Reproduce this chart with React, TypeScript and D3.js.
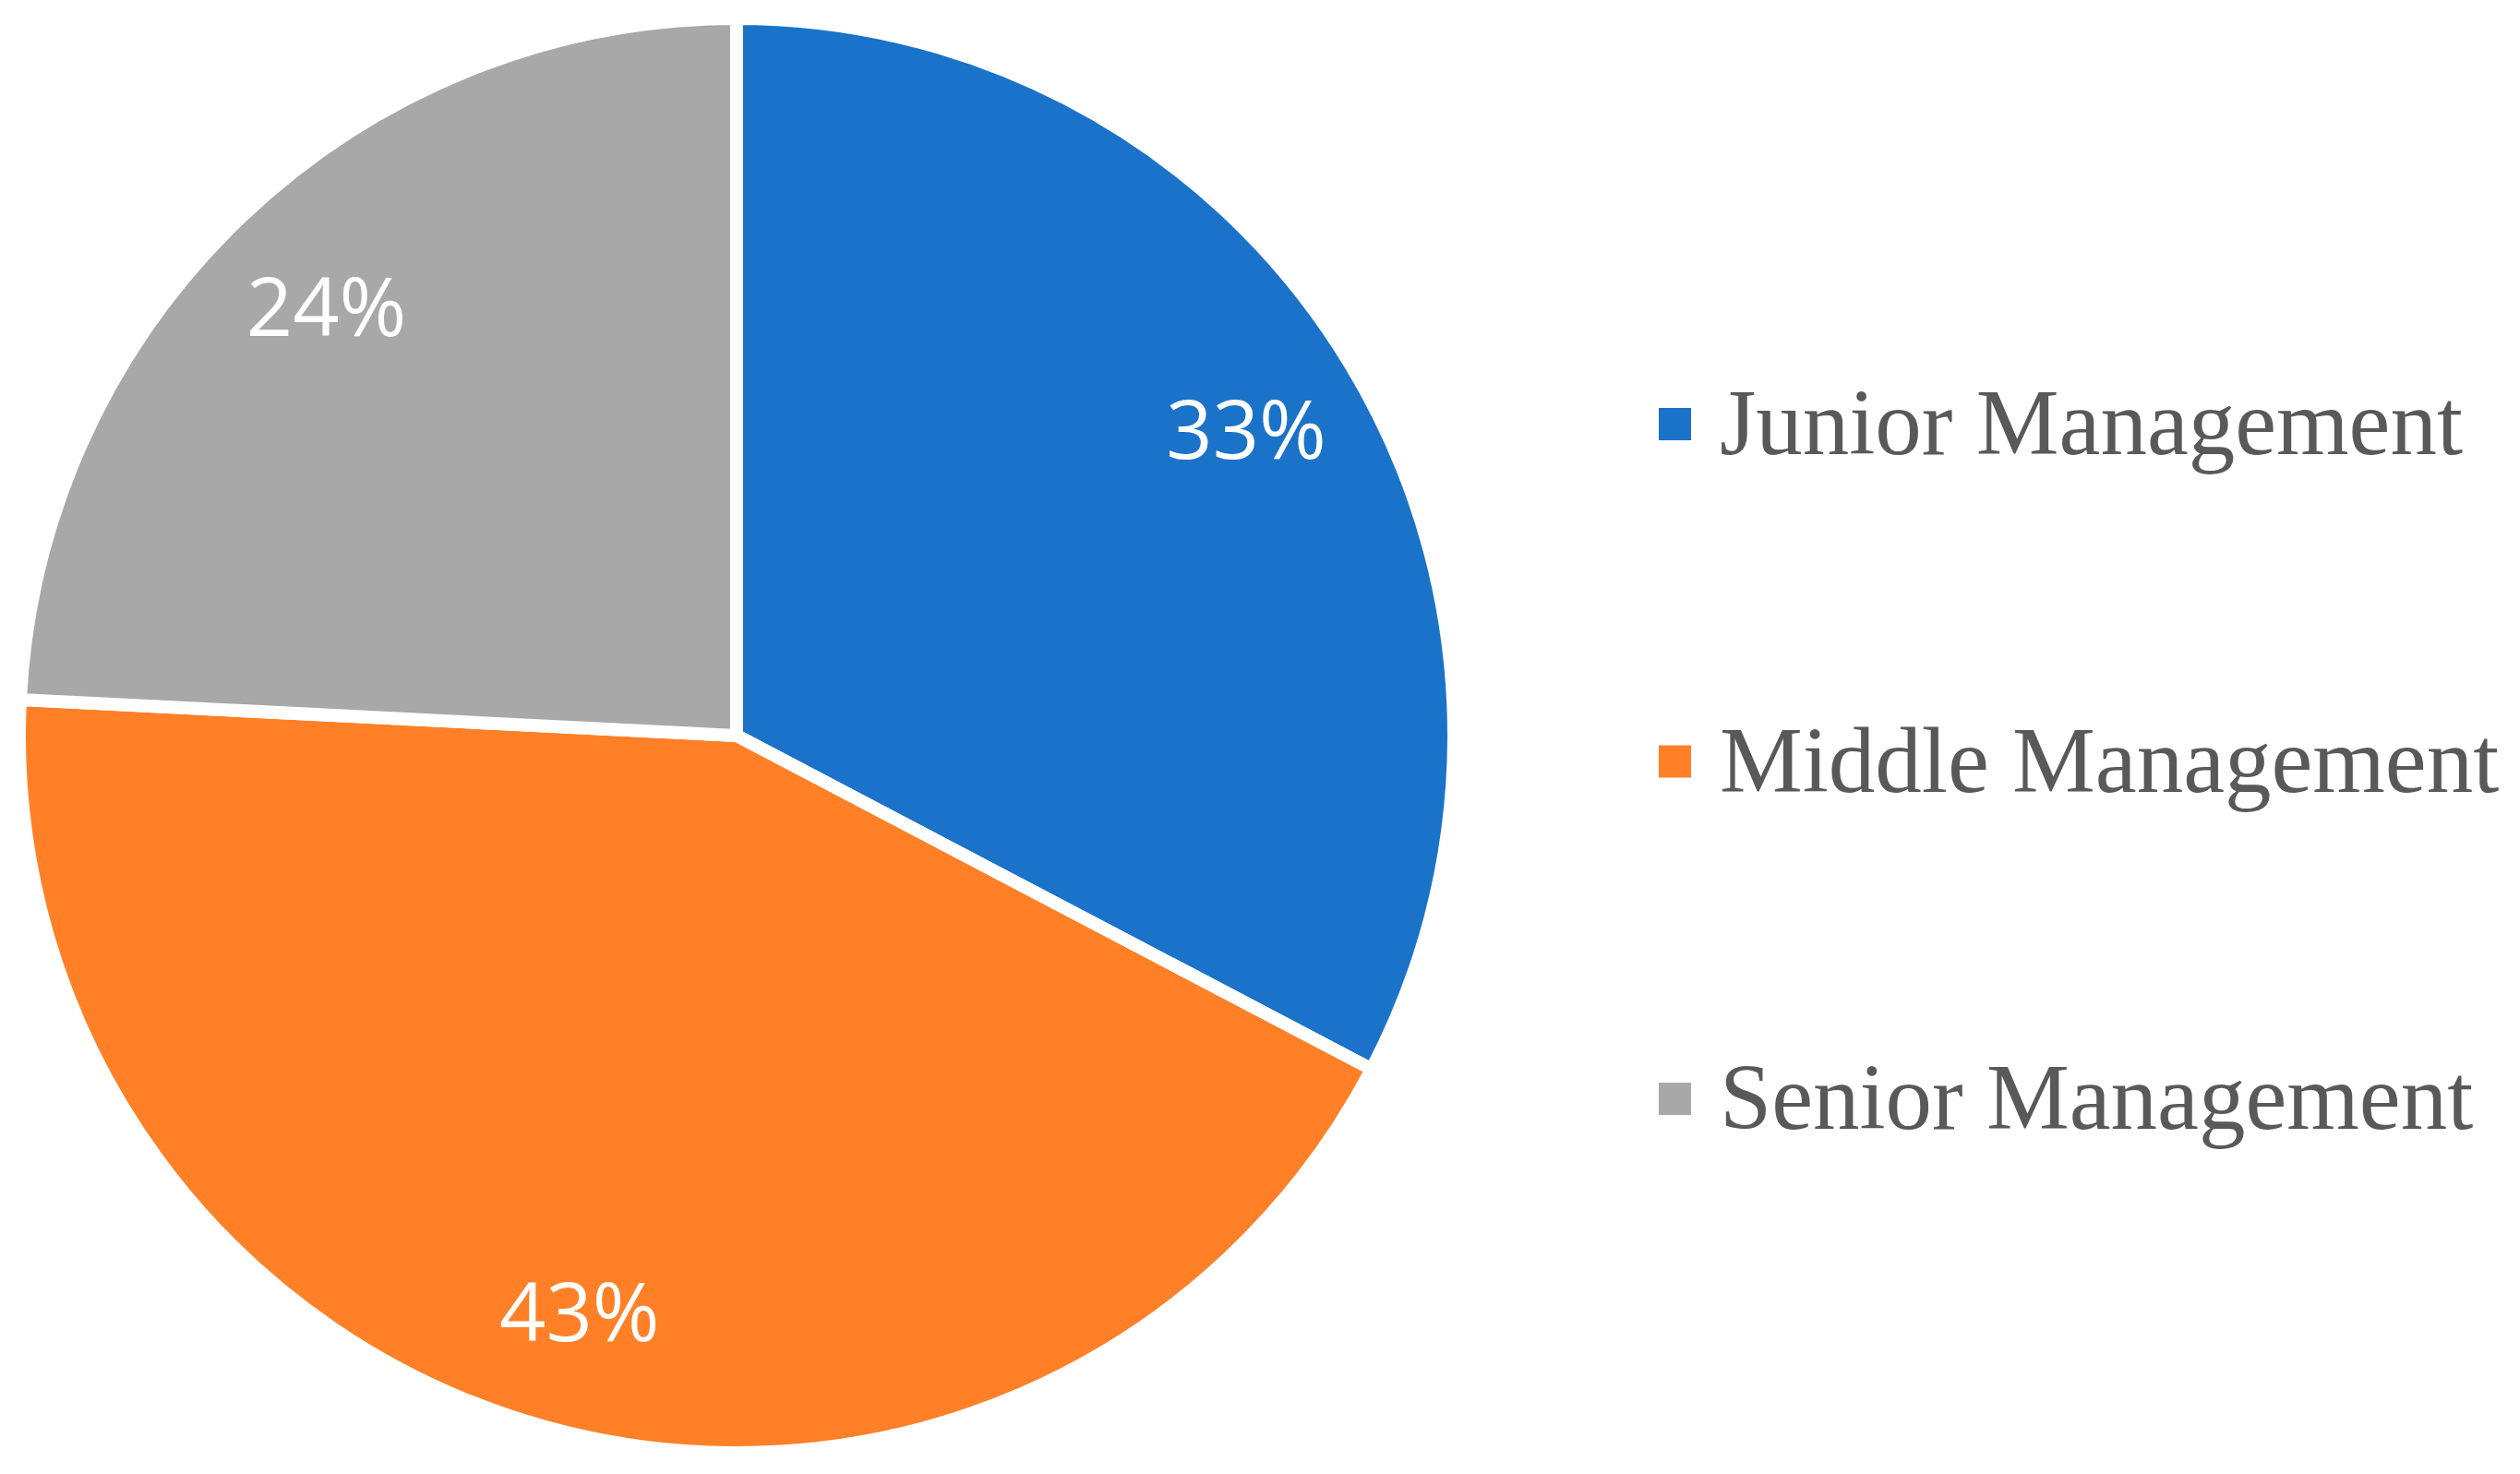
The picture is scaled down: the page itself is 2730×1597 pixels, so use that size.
import React, { useEffect } from "react";
import * as d3 from "d3";

const categories = ["Junior Management", "Middle Management", "Senior Management"];
const values = [32.7, 43.1, 24.2];
const labels = ["33%", "43%", "24%"];
const colors = ["#1A73C8", "#FF8027", "#A8A8A8"];

const W = 2730;
const H = 1597;

export default function App() {
  useEffect(() => {
    document.body.style.margin = "0";
  }, []);

  const cx = 798;
  const cy = 797;
  const R = 777;
  const pie = d3.pie<number>().sort(null).value((d) => d)(values);
  const arc = d3.arc<d3.PieArcDatum<number>>().innerRadius(0).outerRadius(R);
  const labelArc = d3.arc<d3.PieArcDatum<number>>().innerRadius(645).outerRadius(645);

  const legendY = d3.scalePoint<string>().domain(categories).range([492, 1223]);

  return (
    <svg width={W} height={H} style={{ display: "block", background: "#fff" }}>
      <g transform={`translate(${cx},${cy})`}>
        {pie.map((p, i) => (
          <path key={i} d={arc(p) || ""} fill={colors[i]} stroke="#fff" strokeWidth={14} strokeLinejoin="miter" />
        ))}
        {pie.map((p, i) => {
          const [x, y] = labelArc.centroid(p);
          return (
            <text
              key={"l" + i}
              x={x}
              y={y}
              textAnchor="middle"
              dominantBaseline="central"
              fontFamily="'Open Sans', 'Noto Sans', sans-serif"
              fontSize={88}
              fill="#fff"
            >
              {labels[i]}
            </text>
          );
        })}
      </g>
      <g>
        {categories.map((c, i) => {
          const by = legendY(c) as number;
          return (
            <g key={c}>
              <rect x={1797} y={by - 50} width={35} height={35} fill={colors[i]} />
              <text
                x={1863}
                y={by}
                fontFamily="'Liberation Serif', 'Times New Roman', serif"
                fontSize={101}
                fill="#595959"
              >
                {c}
              </text>
            </g>
          );
        })}
      </g>
    </svg>
  );
}
